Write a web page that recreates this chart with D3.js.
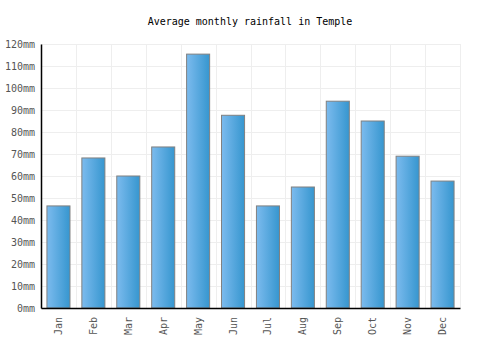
<!DOCTYPE html>
<html><head><meta charset="utf-8">
<script src="https://cdn.jsdelivr.net/npm/d3@7"></script>
<style>body{margin:0;background:#fff}svg{display:block}text{font-family:"DejaVu Sans Mono",monospace;font-size:10px}</style>
</head><body>
<svg id="c" width="500" height="350"></svg>
<script>
const months = ["Jan","Feb","Mar","Apr","May","Jun","Jul","Aug","Sep","Oct","Nov","Dec"];
const rainfall = [46.4,68.2,60,73.2,115.4,87.6,46.4,55,94,85,69,57.7];
const yTicks = [0,10,20,30,40,50,60,70,80,90,100,110,120];
const title = "Average monthly rainfall in Temple";

const svg = d3.select("#c");
const m = {l:41, r:40, t:44, b:42};
const W = 500, H = 350;
const x = d3.scaleBand().domain(months).range([m.l, W-m.r]).paddingInner(0).paddingOuter(0);
const y = d3.scaleLinear().domain([0,120]).range([H-m.b, m.t]);

const defs = svg.append("defs");
const g = defs.append("linearGradient").attr("id","bg").attr("x1","0").attr("x2","1").attr("y1","0").attr("y2","0");
g.append("stop").attr("offset","0%").attr("stop-color","#7cbbee");
g.append("stop").attr("offset","100%").attr("stop-color","#3696cf");

// grid
svg.append("g").selectAll("line").data(yTicks).join("line")
  .attr("x1",m.l).attr("x2",W-m.r).attr("y1",d=>Math.round(y(d))+0.5).attr("y2",d=>Math.round(y(d))+0.5)
  .attr("stroke","#eeeeee").attr("stroke-width",1);
const vb = months.map(d=>x(d)).concat([x(months[11])+x.bandwidth()]);
svg.append("g").selectAll("line").data(vb.slice(1)).join("line")
  .attr("x1",d=>Math.round(d)+0.5).attr("x2",d=>Math.round(d)+0.5).attr("y1",m.t).attr("y2",H-m.b)
  .attr("stroke","#eeeeee").attr("stroke-width",1);

// bars
const bw = x.bandwidth()*0.66;
svg.append("g").selectAll("rect").data(rainfall).join("rect")
  .attr("x",(d,i)=>x(months[i])+(x.bandwidth()-bw)/2)
  .attr("width",bw)
  .attr("y",d=>y(d))
  .attr("height",d=>y(0)-y(d))
  .attr("fill","url(#bg)")
  .attr("stroke","#808080").attr("stroke-width",1);

// axes
const ya = svg.append("g").attr("transform",`translate(${m.l},0)`)
  .call(d3.axisLeft(y).tickValues(yTicks).tickSize(0).tickPadding(6).tickFormat(d=>d+"mm"));
ya.select(".domain").attr("stroke","#000").attr("stroke-width",1.5);
ya.selectAll("text").attr("fill","#555").style("font-size","10px").style("font-family","DejaVu Sans Mono");

const xa = svg.append("g").attr("transform",`translate(0,${H-m.b})`)
  .call(d3.axisBottom(x).tickSize(0).tickPadding(8));
xa.select(".domain").attr("stroke","#000").attr("stroke-width",1.5);
xa.selectAll("text").attr("fill","#555").style("font-size","10px").style("font-family","DejaVu Sans Mono")
  .attr("transform","rotate(-90)").attr("text-anchor","end").attr("x",-9).attr("y",0).attr("dy","0.35em");

svg.append("text").attr("x",250).attr("y",25).attr("text-anchor","middle").attr("fill","#000")
  .style("font-size","10px").text(title);
</script>
</body></html>
